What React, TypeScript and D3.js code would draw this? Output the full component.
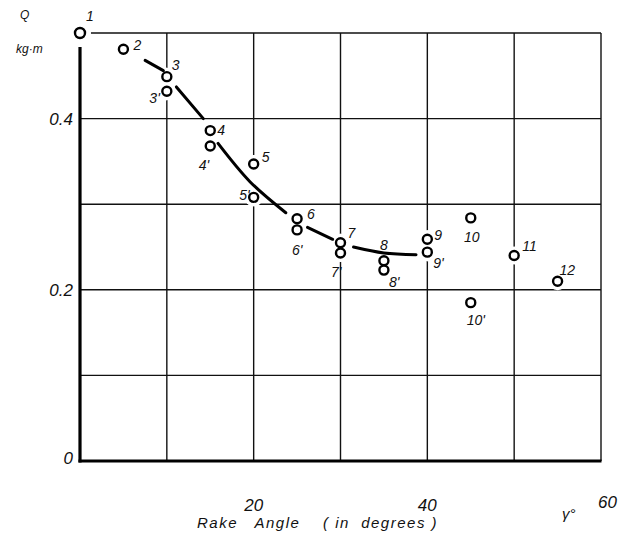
import React from "react";
import * as d3 from "d3";

// Torque Q (kg·m) measured against rake angle γ (degrees)
const pointLabels = ["1", "2", "3", "3'", "4", "4'", "5", "5'", "6", "6'", "7", "7'", "8", "8'", "9", "9'", "10", "10'", "11", "12"];
const rakeAngles = [0, 5, 10, 10, 15, 15, 20, 20, 25, 25, 30, 30, 35, 35, 40, 40, 45, 45, 50, 55];
const torqueValues = [0.5, 0.481, 0.449, 0.432, 0.386, 0.368, 0.347, 0.308, 0.283, 0.27, 0.255, 0.243, 0.234, 0.223, 0.259, 0.244, 0.284, 0.185, 0.24, 0.21];

// Label placement relative to each point: dx, dy, anchor
const labelOffsets: [number, number, string][] = [
  [6, -12, "start"],
  [10, 1, "start"],
  [5, -7, "start"],
  [-7, 12, "end"],
  [7, 4, "start"],
  [-1, 24, "end"],
  [8, -2, "start"],
  [-4, 3, "end"],
  [10, 0, "start"],
  [-5, 25, "start"],
  [7, -5, "start"],
  [1, 24, "end"],
  [0, -11, "middle"],
  [5, 17, "start"],
  [7, 1, "start"],
  [6, 16, "start"],
  [1, 24, "middle"],
  [-4, 22, "start"],
  [8, -5, "start"],
  [2, -6, "start"],
];

// Hand-faired trend curve, drawn in pieces that stop short of the markers
const trendPieces: [number, number][][] = [
  [[7.5, 0.468], [9.6, 0.456]],
  [[11.1, 0.437], [14.2, 0.4]],
  [[15.9, 0.371], [19.6, 0.326], [23.7, 0.29]],
  [[26.2, 0.273], [29.1, 0.259]],
  [[31.5, 0.25], [35, 0.243], [38.7, 0.241]],
];

const xTicks = [0, 10, 20, 30, 40, 50, 60];
const yTicks = [0, 0.1, 0.2, 0.3, 0.4, 0.5];
const xTickLabels = [20, 40];
const yTickLabels = [0.2, 0.4];

export default function App() {
  const x = d3.scaleLinear().domain([0, 60]).range([80, 601]);
  const y = d3.scaleLinear().domain([0, 0.5]).range([461, 33]);
  const line = d3
    .line<[number, number]>()
    .x((d) => x(d[0]))
    .y((d) => y(d[1]))
    .curve(d3.curveCatmullRom);

  // close pairs of readings at the same angle get one joined gap in the grid
  const pairs = d3
    .groups(
      rakeAngles.map((a, i) => ({ a, v: torqueValues[i] })),
      (d) => d.a
    )
    .filter(([, g]) => g.length > 1 && (d3.max(g, (d) => d.v) as number) - (d3.min(g, (d) => d.v) as number) < 0.06);

  const font = "'Liberation Sans', 'DejaVu Sans', sans-serif";

  return (
    <svg width={619} height={540} style={{ position: "absolute", left: 0, top: 0, background: "#fff" }}>
      <rect width={619} height={540} fill="#fff" />
      {/* grid */}
      <g stroke="#111" strokeWidth={1.4}>
        {xTicks.slice(1).map((t) => (
          <line key={"vx" + t} x1={x(t)} x2={x(t)} y1={y(0.5)} y2={y(0)} />
        ))}
        {yTicks.slice(1).map((t) => (
          <line key={"hy" + t} x1={t === 0.5 ? 90 : x(0)} x2={x(60)} y1={y(t)} y2={y(t)} />
        ))}
      </g>
      {/* white halos that break the grid around the markers */}
      <g fill="#fff">
        {rakeAngles.map((a, i) => (
          <circle key={"h" + i} cx={x(a)} cy={y(torqueValues[i])} r={i === 0 ? 11 : 9} />
        ))}
      </g>
      <g stroke="#fff" strokeWidth={18} strokeLinecap="round">
        {pairs.map(([a, g]) => (
          <line
            key={"pg" + a}
            x1={x(a)}
            x2={x(a)}
            y1={y(d3.max(g, (d) => d.v) as number)}
            y2={y(d3.min(g, (d) => d.v) as number)}
          />
        ))}
      </g>
      {/* heavy axes */}
      <line x1={x(0)} x2={x(0)} y1={47} y2={y(0) + 1.5} stroke="#000" strokeWidth={3.2} />
      <line x1={x(0) - 1.5} x2={x(60) + 0.5} y1={y(0)} y2={y(0)} stroke="#000" strokeWidth={3.2} />
      {/* trend curve */}
      <g fill="none" stroke="#000" strokeWidth={3} strokeLinecap="round">
        {trendPieces.map((p, i) => (
          <path key={"c" + i} d={line(p) || ""} />
        ))}
      </g>
      {/* markers */}
      <g fill="#fff" stroke="#000" strokeWidth={2.4}>
        {rakeAngles.map((a, i) => (
          <circle key={"p" + i} cx={x(a)} cy={y(torqueValues[i])} r={i === 0 ? 5 : 4.5} />
        ))}
      </g>
      {/* point labels */}
      <g fontFamily={font} fontStyle="italic" fontSize={14} fill="#111">
        {pointLabels.map((lab, i) => (
          <text
            key={"l" + i}
            x={x(rakeAngles[i]) + labelOffsets[i][0]}
            y={y(torqueValues[i]) + labelOffsets[i][1]}
            textAnchor={labelOffsets[i][2] as any}
          >
            {lab}
          </text>
        ))}
      </g>
      {/* axis labels */}
      <g fontFamily={font} fontStyle="italic" fontSize={17} fill="#111">
        {yTickLabels.map((t) => (
          <text key={"yl" + t} x={73} y={y(t) + 6} textAnchor="end">
            {t.toFixed(1)}
          </text>
        ))}
        <text x={73} y={y(0) + 3} textAnchor="end">0</text>
        {xTickLabels.map((t) => (
          <text key={"xl" + t} x={x(t)} y={511} textAnchor="middle">
            {t}
          </text>
        ))}
        <text x={617} y={508} textAnchor="end">60</text>
      </g>
      <text x={20} y={19} fontFamily={font} fontStyle="italic" fontSize={12} fill="#111">Q</text>
      <text x={16} y={53} fontFamily={font} fontStyle="italic" fontSize={12} fill="#111">kg·m</text>
      <text x={562} y={519} fontFamily={font} fontStyle="italic" fontSize={15} fill="#111">γ°</text>
      <text
        x={197}
        y={528}
        fontFamily={font}
        fontStyle="italic"
        fontSize={15}
        fill="#111"
        letterSpacing={1.5}
        style={{ whiteSpace: "pre" }}
      >
        {"Rake   Angle    ( in  degrees )"}
      </text>
    </svg>
  );
}
